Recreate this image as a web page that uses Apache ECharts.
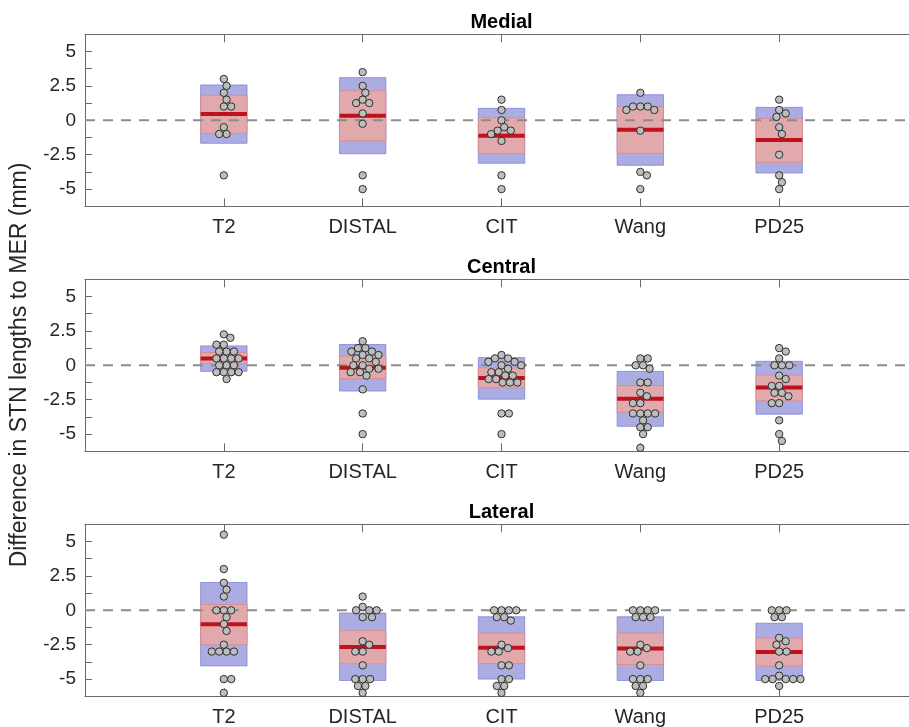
<!DOCTYPE html>
<html><head><meta charset="utf-8">
<script src="https://cdn.jsdelivr.net/npm/echarts@6/dist/echarts.min.js"></script>
<style>html,body{margin:0;padding:0;background:#fff}#c{width:909px;height:727px}</style>
</head><body><div id="c"></div>
<script>
// ---------- data ----------
const categories = ['T2', 'DISTAL', 'CIT', 'Wang', 'PD25'];
const panelTitles = ['Medial', 'Central', 'Lateral'];
const yLabelValues = [-5, -2.5, 0, 2.5, 5];
const yAxisTitle = 'Difference in STN lengths to MER (mm)';

// mean, mean±SD (blue), confidence interval (red)
const medialMean = [0.46, 0.33, -1.12, -0.68, -1.43];
const medialSd = [[-1.67, 2.57], [-2.43, 3.1], [-3.12, 0.87], [-3.27, 1.86], [-3.83, 0.94]];
const medialCi = [[-0.94, 1.82], [-1.5, 2.15], [-2.43, 0.19], [-2.4, 0.99], [-3.05, 0.14]];
const medialPoints = [
  [3, 2.5, 2, 1.5, 1, 1, -0.5, -1, -1, -4],
  [3.5, 2.5, 2, 1.5, 1.25, 1.25, 0.5, -0.25, -4, -5],
  [1.5, 0.75, 0, -0.5, -0.75, -0.75, -1, -1.5, -4, -5],
  [2, 1, 1, 1, 0.75, 0.75, -0.75, -3.75, -4, -5],
  [1.5, 0.75, 0.5, 0.25, -0.5, -1, -2.5, -4, -4.5, -5]
];

const centralMean = [0.49, -0.17, -0.92, -2.43, -1.61];
const centralSd = [[-0.44, 1.41], [-1.87, 1.51], [-2.46, 0.56], [-4.43, -0.44], [-3.55, 0.29]];
const centralCi = [[0.12, 0.93], [-0.97, 0.66], [-1.63, -0.19], [-3.41, -1.48], [-2.58, -0.71]];
const centralPoints = [
  [2.25, 2, 1.5, 1.5, 1, 1, 1, 0.5, 0.5, 0.5, 0.5, 0, 0, 0, -0.5, -0.5, -0.5, -0.5, -1],
  [1.75, 1.25, 1.25, 1, 1, 0.75, 0.75, 0.5, 0.5, 0.25, 0, 0, -0.25, -0.25, -0.5, -0.5, -0.75, -1.75, -3.5, -5],
  [0.75, 0.5, 0.5, 0.25, 0.25, 0, 0, -0.25, -0.5, -0.5, -0.75, -0.75, -1, -1, -1.25, -1.25, -1.25, -3.5, -3.5, -5],
  [0.5, 0.5, 0, 0, -0.25, -1.25, -1.25, -2, -2.25, -2.75, -2.75, -3.5, -3.5, -3.5, -3.5, -4, -4.5, -4.5, -5, -6],
  [1.25, 1, 0.5, 0, 0, 0, -0.75, -1, -1.5, -1.5, -2, -2, -2.25, -2.75, -2.75, -4, -5, -5.5]
];

const lateralMean = [-1.01, -2.66, -2.73, -2.78, -3.03];
const lateralSd = [[-4.04, 2.02], [-5.1, -0.2], [-5.0, -0.47], [-5.1, -0.47], [-5.1, -0.94]];
const lateralCi = [[-2.51, 0.42], [-3.89, -1.48], [-3.87, -1.65], [-3.94, -1.65], [-4.06, -2.0]];
const lateralPoints = [
  [5.5, 3, 2, 1.5, 1, 0, 0, 0, -0.5, -1, -1.5, -2.5, -3, -3, -3, -3, -5, -5, -6],
  [1, 0.25, 0, 0, 0, -0.5, -0.5, -2.25, -2.5, -3, -3, -4, -5, -5, -5, -5.5, -5.5, -6],
  [0, 0, 0, 0, -0.5, -0.5, -0.75, -2.5, -2.75, -3, -3, -4, -4, -5, -5, -5.5, -5.5, -6],
  [0, 0, 0, 0, -0.5, -0.5, -0.5, -2.5, -2.75, -3, -3, -4, -5, -5, -5, -5.5, -5.5, -6],
  [0, 0, 0, -0.5, -0.5, -2, -2.25, -2.5, -3, -3, -4, -4.75, -5, -5, -5, -5, -5, -5.5]
];

const panels = [
  { mean: medialMean, sd: medialSd, ci: medialCi, pts: medialPoints },
  { mean: centralMean, sd: centralSd, ci: centralCi, pts: centralPoints },
  { mean: lateralMean, sd: lateralSd, ci: lateralCi, pts: lateralPoints }
];

// ---------- layout / style ----------
const FONT = 'Liberation Sans, Arial, Helvetica, sans-serif';
const GL = 85, GW = 833, GH = 172;
const GT = [34.3, 279.3, 524.3];
const HW = 0.167;          // half box width in category units
const MARK = 7.4;          // marker diameter
const SWARM_D = 7.4;       // min centre distance in swarm
const AXC = '#6a6a6a';
const TXT = '#262626';

const chart = echarts.init(document.getElementById('c'), null, { renderer: 'canvas' });

const grids = [], xAxes = [], yAxes = [], titles = [];
GT.forEach((t, g) => {
  grids.push({ left: GL, top: t, width: GW, height: GH, containLabel: false, outerBoundsMode: 'none' });
  const baseX = {
    type: 'value', gridIndex: g, min: 0, max: 6, interval: 1,
    axisLine: { show: true, onZero: false, lineStyle: { color: AXC, width: 1 } },
    axisTick: { show: true, inside: true, length: 8, lineStyle: { color: AXC } },
    splitLine: { show: false }
  };
  xAxes.push(Object.assign({}, baseX, {
    position: 'bottom',
    axisLabel: {
      show: true, margin: 11, fontSize: 20, color: TXT, fontFamily: FONT,
      formatter: v => categories[Math.round(v) - 1] || ''
    }
  }));
  xAxes.push(Object.assign({}, baseX, { position: 'top', axisLabel: { show: false } }));
  yAxes.push({
    type: 'value', gridIndex: g, min: -6.25, max: 6.25, interval: 1.25,
    axisLine: { show: true, onZero: false, lineStyle: { color: AXC, width: 1 } },
    axisTick: { show: true, inside: true, length: 7, lineStyle: { color: AXC } },
    splitLine: { show: false },
    axisLabel: {
      show: true, margin: 9, fontSize: 19, color: TXT, fontFamily: FONT, showMinLabel: true, showMaxLabel: true,
      formatter: v => (yLabelValues.indexOf(v) >= 0 ? String(v) : '')
    }
  });
  titles.push({
    text: panelTitles[g], left: GL + GW / 2, top: t - 22, textAlign: 'center', padding: 0,
    textStyle: { fontSize: 20, fontWeight: 'bold', color: '#000', fontFamily: FONT }
  });
});

chart.setOption({
  animation: false,
  backgroundColor: '#fff',
  title: titles,
  grid: grids, xAxis: xAxes, yAxis: yAxes,
  graphic: [{
    type: 'text', x: 20, y: 365, rotation: Math.PI / 2,
    style: { text: yAxisTitle, fontSize: 23, fill: TXT, fontFamily: FONT, align: 'center', verticalAlign: 'middle' }
  }],
  series: []
});

function boxRender(fill, stroke) {
  return function (params, api) {
    const x = api.value(0), lo = api.value(1), hi = api.value(2);
    const p1 = api.coord([x - HW, hi]);
    const p2 = api.coord([x + HW, lo]);
    return {
      type: 'rect',
      shape: { x: p1[0], y: p1[1], width: p2[0] - p1[0], height: p2[1] - p1[1] },
      style: { fill: fill, stroke: stroke, lineWidth: 1 }
    };
  };
}
function meanRender(params, api) {
  const x = api.value(0), m = api.value(1);
  const p1 = api.coord([x - HW, m]);
  const p2 = api.coord([x + HW, m]);
  return { type: 'line', shape: { x1: p1[0], y1: p1[1], x2: p2[0], y2: p2[1] }, style: { stroke: '#c0121c', lineWidth: 4 } };
}

// swarm layout in pixel space
function swarm(values, pxX, pxY) {
  const placed = [];
  const out = [];
  values.forEach(v => {
    const py = v * pxY;
    const cands = [0];
    placed.forEach(p => {
      const dy = Math.abs(p.y - py);
      if (dy < SWARM_D) {
        const dx = Math.sqrt(SWARM_D * SWARM_D - dy * dy);
        cands.push(p.x + dx, p.x - dx);
      }
    });
    cands.sort((a, b) => (Math.abs(a) - Math.abs(b)) || (b - a));
    let best = 0;
    for (const c of cands) {
      let ok = true;
      for (const p of placed) {
        const d = Math.hypot(p.x - c, p.y - py);
        if (d < SWARM_D - 1e-6) { ok = false; break; }
      }
      if (ok) { best = c; break; }
    }
    placed.push({ x: best, y: py });
    out.push(best / pxX);
  });
  return out;
}

const series = [];
panels.forEach((P, g) => {
  const xi = g * 2, yi = g;
  const a = chart.convertToPixel({ gridIndex: g }, [0, 0]);
  const b = chart.convertToPixel({ gridIndex: g }, [1, 1]);
  const pxX = b[0] - a[0];
  const pxY = a[1] - b[1];

  series.push({
    type: 'custom', xAxisIndex: xi, yAxisIndex: yi, z: 1, silent: true,
    renderItem: boxRender('rgba(110,112,205,0.58)', 'rgba(125,125,220,0.75)'),
    encode: { x: 0, y: [1, 2] },
    data: categories.map((c, i) => [i + 1, P.sd[i][0], P.sd[i][1]])
  });
  series.push({
    type: 'custom', xAxisIndex: xi, yAxisIndex: yi, z: 2, silent: true,
    renderItem: boxRender('rgba(232,168,166,0.9)', 'rgba(220,135,135,0.8)'),
    encode: { x: 0, y: [1, 2] },
    data: categories.map((c, i) => [i + 1, P.ci[i][0], P.ci[i][1]])
  });
  series.push({
    type: 'line', xAxisIndex: xi, yAxisIndex: yi, z: 3, silent: true,
    symbol: 'none', data: [[0, 0], [6, 0]],
    lineStyle: { color: '#8c8c8c', width: 2, type: [10, 8] }
  });
  series.push({
    type: 'custom', xAxisIndex: xi, yAxisIndex: yi, z: 4, silent: true,
    renderItem: meanRender, encode: { x: 0, y: 1 },
    data: categories.map((c, i) => [i + 1, P.mean[i]])
  });
  const pts = [];
  P.pts.forEach((vals, i) => {
    const off = swarm(vals, pxX, pxY);
    vals.forEach((v, k) => pts.push([i + 1 + off[k], v]));
  });
  series.push({
    type: 'scatter', xAxisIndex: xi, yAxisIndex: yi, z: 5, silent: true,
    symbol: 'circle', symbolSize: MARK, data: pts,
    itemStyle: { color: '#bdbdbd', borderColor: '#2e2e2e', borderWidth: 1, opacity: 1 }
  });
});

chart.setOption({ series: series });
</script>
</body></html>
